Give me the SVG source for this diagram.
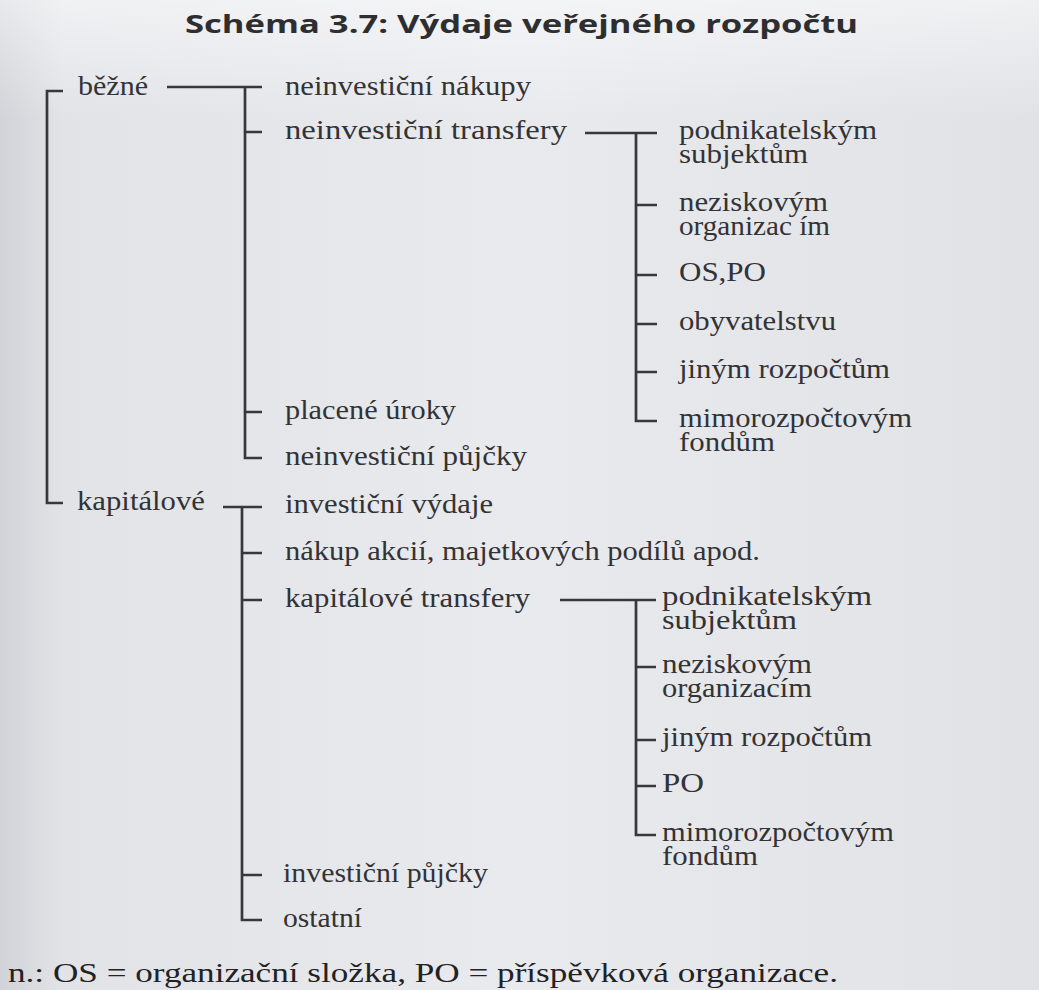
<svg xmlns="http://www.w3.org/2000/svg" width="1039" height="990" viewBox="0 0 1039 990">
<defs>
<linearGradient id="paper" x1="0" y1="0" x2="1" y2="0">
<stop offset="0" stop-color="#d2d3d8"/>
<stop offset="0.06" stop-color="#e2e3e7"/>
<stop offset="0.5" stop-color="#e9eaee"/>
<stop offset="1" stop-color="#e1e2e6"/>
</linearGradient>
<linearGradient id="paperv" x1="0" y1="0" x2="0" y2="1">
<stop offset="0" stop-color="#ffffff" stop-opacity="0.5"/>
<stop offset="0.12" stop-color="#ffffff" stop-opacity="0"/>
<stop offset="1" stop-color="#ffffff" stop-opacity="0"/>
</linearGradient>
<style>
.t{font-family:"Liberation Serif","DejaVu Serif",serif;font-size:27px;fill:#333335}
.title{font-family:"Open Sans","DejaVu Sans",sans-serif;font-weight:bold;font-size:25px;fill:#2e2e30}
.note{font-family:"Liberation Serif","DejaVu Serif",serif;font-size:27px;fill:#222224}
.c{fill:none;stroke:#38383a;stroke-width:2.7}
</style>
</defs>
<rect width="1039" height="990" fill="url(#paper)"/>
<rect width="1039" height="990" fill="url(#paperv)"/>

<g id="title"><text class="title" x="185" y="33" textLength="673" lengthAdjust="spacingAndGlyphs">Schéma 3.7: Výdaje veřejného rozpočtu</text></g>

<g id="connectors">
<path class="c" d="M63,91 H47 V503 H63"/>
<path class="c" d="M167,87 H262 M245,87 V458 H262 M245,132 H262 M245,412 H262"/>
<path class="c" d="M223,507 H262 M242,507 V920 H262 M242,553 H262 M242,600 H262 M242,875 H262"/>
<path class="c" d="M585,133 H657 M636,133 V421 H657 M636,205 H657 M636,275 H657 M636,324 H657 M636,372 H657"/>
<path class="c" d="M560,600 H656 M636,600 V835 H656 M636,667 H656 M636,740 H656 M636,786 H656"/>
</g>

<g id="bezne"><text class="t" x="78" y="95" textLength="70" lengthAdjust="spacingAndGlyphs">běžné</text></g>
<g id="kapitalove"><text class="t" x="77" y="510" textLength="128" lengthAdjust="spacingAndGlyphs">kapitálové</text></g>

<g id="neinvesticni-nakupy"><text class="t" x="285" y="95" textLength="246" lengthAdjust="spacingAndGlyphs">neinvestiční nákupy</text></g>
<g id="neinvesticni-transfery"><text class="t" x="285" y="139" textLength="282" lengthAdjust="spacingAndGlyphs">neinvestiční transfery</text></g>
<g id="placene-uroky"><text class="t" x="285" y="419" textLength="171" lengthAdjust="spacingAndGlyphs">placené úroky</text></g>
<g id="neinvesticni-pujcky"><text class="t" x="285" y="465" textLength="242" lengthAdjust="spacingAndGlyphs">neinvestiční půjčky</text></g>

<g id="investicni-vydaje"><text class="t" x="285" y="513" textLength="208" lengthAdjust="spacingAndGlyphs">investiční výdaje</text></g>
<g id="nakup-akcii"><text class="t" x="285" y="560" textLength="475" lengthAdjust="spacingAndGlyphs">nákup akcií, majetkových podílů apod.</text></g>
<g id="kapitalove-transfery"><text class="t" x="285" y="607" textLength="245" lengthAdjust="spacingAndGlyphs">kapitálové transfery</text></g>
<g id="investicni-pujcky"><text class="t" x="283" y="882" textLength="205" lengthAdjust="spacingAndGlyphs">investiční půjčky</text></g>
<g id="ostatni"><text class="t" x="283" y="927" textLength="79" lengthAdjust="spacingAndGlyphs">ostatní</text></g>

<g id="a-podnikatelskym"><text class="t"><tspan x="679" y="139" textLength="198" lengthAdjust="spacingAndGlyphs">podnikatelským</tspan><tspan x="679" y="163" textLength="129" lengthAdjust="spacingAndGlyphs">subjektům</tspan></text></g>
<g id="a-neziskovym"><text class="t"><tspan x="679" y="211" textLength="149" lengthAdjust="spacingAndGlyphs">neziskovým</tspan><tspan x="679" y="235" textLength="151" lengthAdjust="spacingAndGlyphs">organizac ím</tspan></text></g>
<g id="a-ospo"><text class="t" x="679" y="281" textLength="87" lengthAdjust="spacingAndGlyphs">OS,PO</text></g>
<g id="a-obyvatelstvu"><text class="t" x="679" y="330" textLength="157" lengthAdjust="spacingAndGlyphs">obyvatelstvu</text></g>
<g id="a-jinym"><text class="t" x="679" y="378" textLength="211" lengthAdjust="spacingAndGlyphs">jiným rozpočtům</text></g>
<g id="a-mimorozpoctovym"><text class="t"><tspan x="679" y="427" textLength="233" lengthAdjust="spacingAndGlyphs">mimorozpočtovým</tspan><tspan x="679" y="451" textLength="96" lengthAdjust="spacingAndGlyphs">fondům</tspan></text></g>

<g id="b-podnikatelskym"><text class="t"><tspan x="662" y="605" textLength="210" lengthAdjust="spacingAndGlyphs">podnikatelským</tspan><tspan x="662" y="629" textLength="135" lengthAdjust="spacingAndGlyphs">subjektům</tspan></text></g>
<g id="b-neziskovym"><text class="t"><tspan x="662" y="673" textLength="150" lengthAdjust="spacingAndGlyphs">neziskovým</tspan><tspan x="662" y="697" textLength="150" lengthAdjust="spacingAndGlyphs">organizacím</tspan></text></g>
<g id="b-jinym"><text class="t" x="662" y="746" textLength="210" lengthAdjust="spacingAndGlyphs">jiným rozpočtům</text></g>
<g id="b-po"><text class="t" x="662" y="792" textLength="42" lengthAdjust="spacingAndGlyphs">PO</text></g>
<g id="b-mimorozpoctovym"><text class="t"><tspan x="662" y="841" textLength="232" lengthAdjust="spacingAndGlyphs">mimorozpočtovým</tspan><tspan x="662" y="865" textLength="96" lengthAdjust="spacingAndGlyphs">fondům</tspan></text></g>

<g id="footnote"><text class="note" x="8" y="982" textLength="830" lengthAdjust="spacingAndGlyphs">n.: OS = organizační složka, PO = příspěvková organizace.</text></g>
</svg>
